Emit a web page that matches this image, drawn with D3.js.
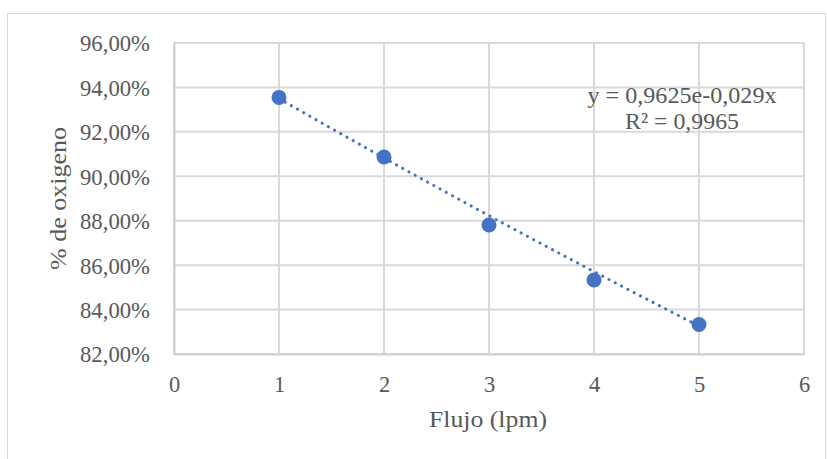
<!DOCTYPE html>
<html>
<head>
<meta charset="utf-8">
<script src="https://cdn.jsdelivr.net/npm/d3@7"></script>
<style>
  html, body { margin: 0; padding: 0; background: #fff; }
</style>
</head>
<body>
<svg id="chart" width="827" height="459"></svg>
<script>
// Oxygen concentration measured at each flow rate
const flujo = [1, 2, 3, 4, 5];
const oxigeno = [0.9355, 0.9087, 0.8781, 0.8533, 0.8333];

// Exponential trendline y = a·e^(b·x) as reported
const trendA = 0.9625;
const trendB = -0.029;
const trendLabel = ["y = 0,9625e-0,029x", "R² = 0,9965"];

const xTicks = [0, 1, 2, 3, 4, 5, 6];
const yTicks = [0.82, 0.84, 0.86, 0.88, 0.90, 0.92, 0.94, 0.96];

const FONT = "Liberation Serif, Times New Roman, DejaVu Serif, serif";
const TEXT = "#595959";

const svg = d3.select("#chart");
const m = { left: 174, right: 804, top: 43, bottom: 354 };

// chart area frame
svg.append("rect")
  .attr("x", 7.5).attr("y", 13.5)
  .attr("width", 818).attr("height", 460)
  .attr("fill", "#fff").attr("stroke", "#d9d9d9").attr("stroke-width", 1);

const x = d3.scaleLinear().domain([0, 6]).range([m.left, m.right]);
const y = d3.scaleLinear().domain([0.82, 0.96]).range([m.bottom, m.top]);

const fmtPct = v => d3.format(".2f")(v * 100).replace(".", ",") + "%";

// gridlines
const grid = svg.append("g").attr("stroke", "#d9d9d9").attr("stroke-width", 2);
grid.selectAll(".gy").data(yTicks).join("line")
  .attr("x1", m.left).attr("x2", m.right)
  .attr("y1", d => y(d)).attr("y2", d => y(d));
grid.selectAll(".gx").data(xTicks).join("line")
  .attr("y1", m.top).attr("y2", m.bottom)
  .attr("x1", d => x(d)).attr("x2", d => x(d));

// axes
const xAxis = svg.append("g")
  .attr("transform", `translate(0,${m.bottom})`)
  .call(d3.axisBottom(x).tickValues(xTicks).tickFormat(d3.format("d")).tickSize(0));
const yAxis = svg.append("g")
  .attr("transform", `translate(${m.left},0)`)
  .call(d3.axisLeft(y).tickValues(yTicks).tickFormat(fmtPct).tickSize(0).tickPadding(24));
[xAxis, yAxis].forEach(a => {
  a.attr("font-family", FONT).attr("font-size", 22.5);
  a.select(".domain").attr("stroke", "#d0d0d0").attr("stroke-width", 2);
  a.selectAll("text").attr("fill", TEXT);
});
xAxis.selectAll("text").attr("dy", "0.35em").attr("y", 30);
yAxis.selectAll("text").attr("dy", "0.35em")
  .attr("textLength", 70).attr("lengthAdjust", "spacingAndGlyphs");

// trendline
const trendX = d3.range(1, 5.001, 0.05);
const line = d3.line().x(d => x(d)).y(d => y(trendA * Math.exp(trendB * d)));
svg.append("path")
  .datum(trendX)
  .attr("d", line)
  .attr("fill", "none")
  .attr("stroke", "#4472C4")
  .attr("stroke-width", 3)
  .attr("stroke-linecap", "round")
  .attr("stroke-dasharray", "0.1 7");

// data points
svg.selectAll(".pt").data(flujo).join("circle")
  .attr("cx", d => x(d))
  .attr("cy", (d, i) => y(oxigeno[i]))
  .attr("r", 7.5)
  .attr("fill", "#4472C4");

// trendline label
const lblWidths = [189, 114];
const lbl = svg.append("text")
  .attr("font-family", FONT).attr("font-size", 23)
  .attr("fill", TEXT);
lbl.selectAll("tspan").data(trendLabel).join("tspan")
  .attr("x", (d, i) => 682 - lblWidths[i] / 2)
  .attr("y", (d, i) => 103 + i * 26)
  .attr("textLength", (d, i) => lblWidths[i])
  .attr("lengthAdjust", "spacingAndGlyphs")
  .text(d => d);

// axis titles
svg.append("text")
  .attr("x", 488 - 59).attr("y", 427)
  .attr("font-family", FONT).attr("font-size", 24).attr("fill", TEXT)
  .attr("textLength", 118).attr("lengthAdjust", "spacingAndGlyphs")
  .text("Flujo (lpm)");
svg.append("text")
  .attr("transform", "translate(66,270) rotate(-90)")
  .attr("font-family", FONT).attr("font-size", 24).attr("fill", TEXT)
  .attr("textLength", 143).attr("lengthAdjust", "spacingAndGlyphs")
  .text("% de oxigeno");
</script>
</body>
</html>
